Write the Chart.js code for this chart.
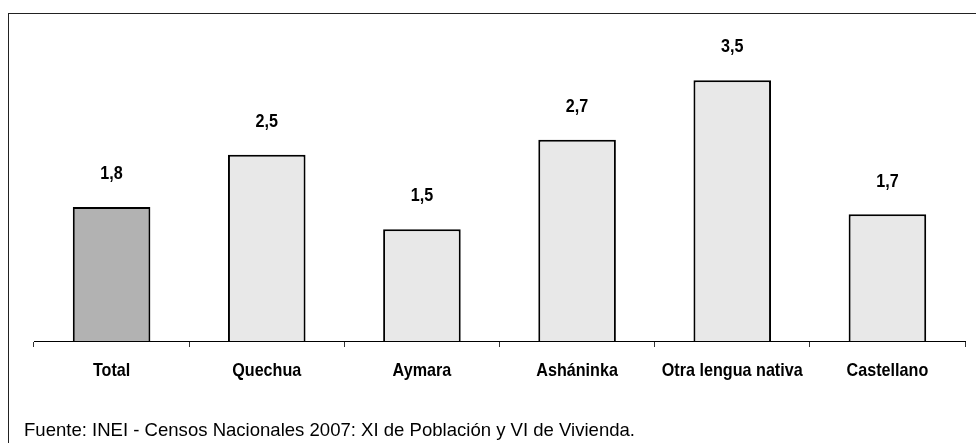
<!DOCTYPE html>
<html>
<head>
<meta charset="utf-8">
<script src="https://cdn.jsdelivr.net/npm/chart.js@4.4.1/dist/chart.umd.min.js"></script>
<style>
  body { margin: 0; background: #fff; }
  #wrap { width: 976px; height: 443px; position: relative; }
</style>
</head>
<body>
<div id="wrap"><canvas id="myChart" width="976" height="443"></canvas></div>
<script>
const categories = ['Total', 'Quechua', 'Aymara', 'Asháninka', 'Otra lengua nativa', 'Castellano'];
const values = [1.8, 2.5, 1.5, 2.7, 3.5, 1.7];
const barColors = ['#b2b2b2', '#e8e8e8', '#e8e8e8', '#e8e8e8', '#e8e8e8', '#e8e8e8'];
const sourceNote = 'Fuente: INEI - Censos Nacionales 2007: XI de Población y VI de Vivienda.';

const fontFam = '"Liberation Sans", Arial, sans-serif';

// no narrow font installed, so squeeze the text horizontally
function narrowText(ctx, text, x, y, sx) {
  ctx.save();
  ctx.translate(x, y);
  ctx.scale(sx, 1);
  ctx.fillText(text, 0, 0);
  ctx.restore();
}

const extras = {
  id: 'extras',
  beforeDraw(chart) {
    const ctx = chart.ctx;
    ctx.save();
    ctx.strokeStyle = '#222';
    ctx.lineWidth = 1;
    ctx.strokeRect(8.5, 13.5, 1000, 600);
    ctx.restore();
  },
  afterDraw(chart) {
    const ctx = chart.ctx;
    const meta = chart.getDatasetMeta(0);
    const xs = chart.scales.x;
    ctx.save();
    ctx.fillStyle = '#000';
    ctx.textAlign = 'center';
    ctx.textBaseline = 'middle';
    ctx.font = 'bold 19px ' + fontFam;
    meta.data.forEach((bar, i) => {
      narrowText(ctx, values[i].toFixed(1).replace('.', ','), bar.x, bar.y - 33, 0.85);
    });
    categories.forEach((c, i) => {
      narrowText(ctx, c, xs.getPixelForTick(i), 371, 0.85);
    });
    ctx.textAlign = 'left';
    ctx.font = '19px ' + fontFam;
    const w = ctx.measureText(sourceNote).width;
    narrowText(ctx, sourceNote, 24, 431, 611 / w);
    ctx.restore();
  }
};

new Chart(document.getElementById('myChart'), {
  type: 'bar',
  data: {
    labels: categories,
    datasets: [{
      data: values,
      backgroundColor: barColors,
      borderColor: '#000',
      borderWidth: 2,
      borderSkipped: 'bottom',
      barPercentage: 0.5,
      categoryPercentage: 1.0
    }]
  },
  options: {
    responsive: false,
    animation: false,
    layout: { padding: { left: 34, right: 11, top: 43, bottom: 0 } },
    plugins: { legend: { display: false }, tooltip: { enabled: false } },
    scales: {
      y: { display: false, min: 0, max: 4 },
      x: {
        afterFit(scale) { scale.height = 102; },
        border: { display: true, color: '#000', width: 1 },
        grid: { display: true, drawOnChartArea: false, drawTicks: true, tickLength: 6, color: '#333', offset: true },
        ticks: { display: false }
      }
    }
  },
  plugins: [extras]
});
</script>
</body>
</html>
